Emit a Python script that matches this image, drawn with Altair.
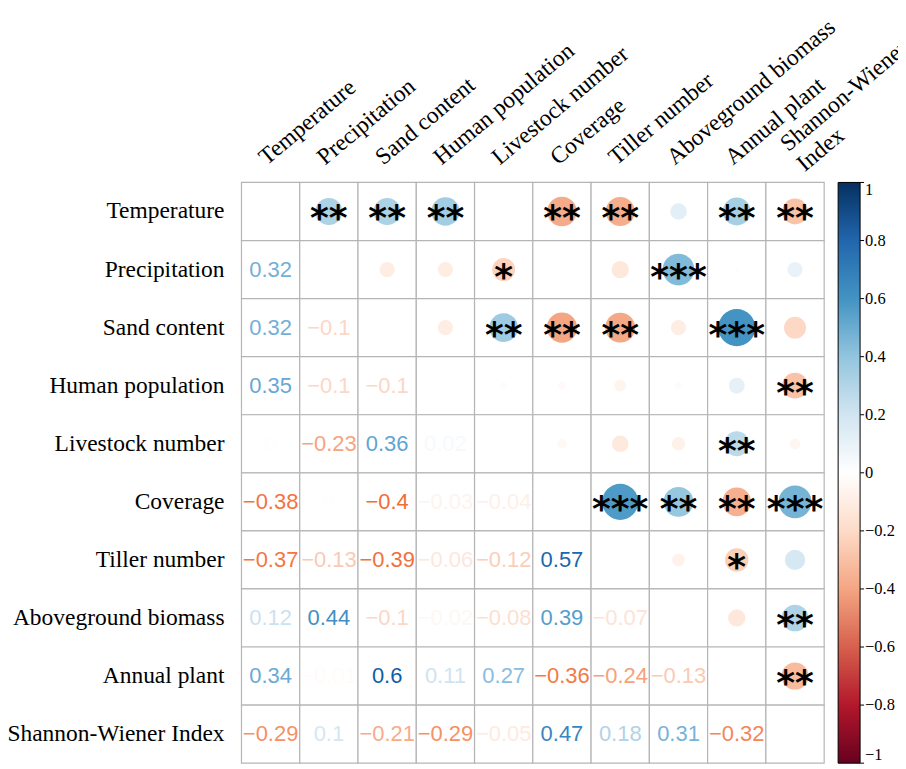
import altair as alt
import pandas as pd

variables = ["Temperature", "Precipitation", "Sand content", "Human population",
             "Livestock number", "Coverage", "Tiller number", "Aboveground biomass",
             "Annual plant", "Shannon-Wiener Index"]
col_labels = ["Temperature", "Precipitation", "Sand content", "Human population",
              "Livestock number", "Coverage", "Tiller number", "Aboveground biomass",
              "Annual plant", "Shannon-Wiener\nIndex"]

# lower triangle of the correlation matrix (row i, columns 0..i-1)
lower = [
    [],
    [0.32],
    [0.32, -0.10],
    [0.35, -0.10, -0.10],
    [0.004, -0.23, 0.36, 0.02],
    [-0.38, 0.004, -0.40, -0.03, -0.04],
    [-0.37, -0.13, -0.39, -0.06, -0.12, 0.57],
    [0.12, 0.44, -0.10, -0.02, -0.08, 0.39, -0.07],
    [0.34, -0.01, 0.60, 0.11, 0.27, -0.36, -0.24, -0.13],
    [-0.29, 0.10, -0.21, -0.29, -0.05, 0.47, 0.18, 0.31, -0.32],
]

# significance stars of the upper triangle (row i, columns i+1..9)
stars_upper = [
    ["**", "**", "**", "", "**", "**", "", "**", "**"],
    ["", "", "*", "", "", "***", "", ""],
    ["", "**", "**", "**", "", "***", ""],
    ["", "", "", "", "", "**"],
    ["", "", "", "**", ""],
    ["***", "**", "**", "***"],
    ["", "*", ""],
    ["", "**"],
    ["**"],
]

legend_ticks = [1, 0.8, 0.6, 0.4, 0.2, 0, -0.2, -0.4, -0.6, -0.8, -1]
palette_stops = [-1, -0.8, -0.6, -0.4, -0.2, 0, 0.2, 0.4, 0.6, 0.8, 1]
palette = ["#67001F", "#B2182B", "#D6604D", "#F4A582", "#FDDBC7", "#FFFFFF",
           "#D1E5F0", "#92C5DE", "#4393C3", "#2166AC", "#053061"]
text_stops = [-1, -0.6, -0.4, -0.2, 0, 0.2, 0.4, 0.6, 1]
text_palette = ["#67001F", "#D6443A", "#F26D35", "#F8AE8C", "#FFFFFF",
                "#A8CEE7", "#4F9BCD", "#0D5FA6", "#053061"]

def fmt(v):
    s = f"{round(v, 2):g}"
    return s.replace("-", "\u2212")

cells, nums, circles = [], [], []
n = len(variables)
for i in range(n):
    for j in range(n):
        cells.append({"row": variables[i], "col": variables[j]})
        if i > j:
            v = lower[i][j]
            nums.append({"row": variables[i], "col": variables[j], "r": v, "label": fmt(v)})
        elif i < j:
            v = lower[j][i]
            circles.append({"row": variables[i], "col": variables[j], "r": v,
                            "absr": abs(v), "stars": stars_upper[i][j - i - 1]})

cells_df = pd.DataFrame(cells)
nums_df = pd.DataFrame(nums)
circ_df = pd.DataFrame(circles)
rowlab_df = pd.DataFrame({"row": variables})
collab_df = pd.DataFrame({"col": variables[:-1], "label": col_labels[:-1]})
collab_last = pd.DataFrame({"col": variables[-1:], "label": col_labels[-1:]})
tick_df = pd.DataFrame({"v": legend_ticks})

W, H = 584, 582
xs = alt.Scale(domain=variables, paddingInner=0, paddingOuter=0)
ys = alt.Scale(domain=variables, paddingInner=0, paddingOuter=0)
X = alt.X("col:N", scale=xs, axis=None, sort=variables)
Y = alt.Y("row:N", scale=ys, axis=None, sort=variables)

grid = alt.Chart(cells_df).mark_rect(fill="white", stroke="#b5b5b5", strokeWidth=1.2).encode(x=X, y=Y)

circ = alt.Chart(circ_df).mark_circle(opacity=1).encode(
    x=X, y=Y,
    size=alt.Size("absr:Q", scale=alt.Scale(domain=[0, 1], range=[0, 2300]), legend=None),
    fill=alt.Fill("r:Q", scale=alt.Scale(domain=palette_stops, range=palette, interpolate="rgb"),
                  legend=alt.Legend(orient="none", legendX=598, legendY=0, direction="vertical",
                                    gradientLength=H, gradientThickness=22,
                                    gradientStrokeColor="black", gradientStrokeWidth=1,
                                    values=legend_ticks, format=".1~f",
                                    labelFont="Liberation Serif", labelFontSize=16.5,
                                    labelColor="black", labelOffset=5, labelOverlap=False,
                                    labelBaseline="middle", title=None, padding=0)),
)

star = alt.Chart(circ_df).mark_text(font="DejaVu Sans", fontSize=36, fontWeight="bold",
                                    baseline="alphabetic", dy=19, color="black").encode(
    x=X, y=Y, text="stars:N")

num = alt.Chart(nums_df).mark_text(font="Liberation Sans", fontSize=22, baseline="middle").encode(
    x=X, y=Y, text="label:N",
    color=alt.Color("r:Q", scale=alt.Scale(domain=text_stops, range=text_palette, interpolate="rgb"),
                    legend=None))

rowlab = alt.Chart(rowlab_df).mark_text(font="Liberation Serif", fontSize=23.5, align="right",
                                        baseline="middle", color="black").encode(
    x=alt.value(-17), y=Y, text="row:N")

collab = alt.Chart(collab_df).mark_text(font="Liberation Serif", fontSize=23.5, align="left",
                                        baseline="alphabetic", angle=320, dx=-5,
                                        color="black").encode(
    x=X, y=alt.value(-20), text="label:N")

collab2 = alt.Chart(collab_last).mark_text(font="Liberation Serif", fontSize=23.5, align="left",
                                           baseline="alphabetic", angle=320, dx=-9,
                                           lineBreak="\n", lineHeight=26,
                                           color="black").encode(
    x=X, y=alt.value(-36), text="label:N")

ticks = alt.Chart(tick_df).mark_rule(color="black", strokeWidth=1).encode(
    x=alt.value(620), x2=alt.value(624),
    y=alt.Y("v:Q", scale=alt.Scale(domain=[-1, 1]), axis=None))

chart = alt.layer(grid, circ, star, num, rowlab, collab, collab2, ticks).resolve_scale(
    y="independent", x="independent"
).properties(
    width=W, height=H,
    autosize=alt.AutoSizeParams(type="none"),
    padding={"left": 234, "top": 174, "right": 74, "bottom": 5},
).configure_view(stroke=None)

chart.save("out.html", embed_options={"renderer": "svg", "actions": False})
